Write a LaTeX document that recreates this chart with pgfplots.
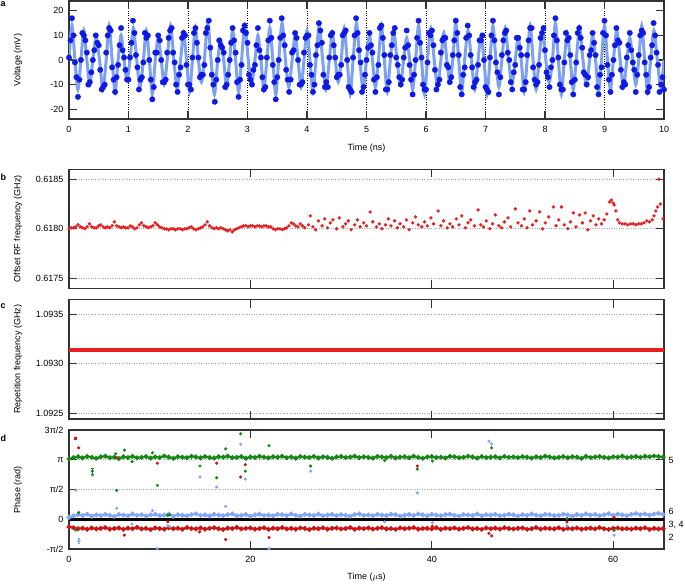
\documentclass[border=0pt]{standalone}
\usepackage{fontspec}
\setmainfont{Liberation Sans}
\usepackage{pgfplots}
\pgfplotsset{compat=1.18}
\usepackage{pgfplotstable}

\definecolor{dotblue}{RGB}{15,25,230}
\definecolor{fitblue}{RGB}{125,160,240}
\definecolor{ptred}{RGB}{232,30,30}
\definecolor{phgreen}{RGB}{20,135,20}
\definecolor{phred}{RGB}{205,20,20}
\definecolor{phblue}{RGB}{130,165,245}

\pgfplotsset{
  panel/.style={
    scale only axis, width=595pt, anchor=north west,
    font=\fontsize{9}{10.5}\selectfont,
    tick label style={font=\fontsize{9}{10.5}\selectfont},
    label style={font=\fontsize{9}{10.5}\selectfont},
    axis line style={line width=1.1pt, black!80},
    tick style={line width=1.1pt, black!80},
    major tick length=8pt, tick align=inside,
    xticklabel style={yshift=-4pt},
    yticklabel style={xshift=-2pt},
    ylabel style={at={(rel axis cs:-0.0857,0.5)}, anchor=center},
    clip mode=individual,
  },
}

% voltage samples (ns, mV)
\pgfplotstableread[row sep=\\]{
t v\\
0 1\\ 0.025 8\\ 0.05 17\\ 0.075 10\\ 0.1 -1\\ 0.125 -7\\ 0.15 -15\\ 0.175 -8\\
0.2 0\\ 0.225 11\\ 0.25 10\\ 0.275 8\\ 0.3 3\\ 0.325 -10\\ 0.35 -9\\ 0.375 -5\\
0.4 0\\ 0.425 4\\ 0.45 10\\ 0.475 7\\ 0.5 6\\ 0.525 -4\\ 0.55 -12\\ 0.575 -11\\ 0.6 -10\\
0.625 3\\ 0.65 10\\ 0.675 13\\ 0.7 12\\ 0.725 -3\\ 0.75 -8\\ 0.775 -13\\ 0.8 -7\\
0.825 -2\\ 0.85 6\\ 0.875 13\\ 0.9 4\\ 0.925 1\\ 0.95 -4\\ 0.975 -8\\ 1 -8\\
1.025 1\\ 1.05 7\\ 1.075 16\\ 1.1 11\\ 1.125 2\\ 1.15 -3\\ 1.175 -12\\ 1.2 -8\\ 1.225 -7\\
1.25 -1\\ 1.275 11\\ 1.3 9\\ 1.325 10\\ 1.35 0\\ 1.375 -8\\ 1.4 -16\\ 1.425 -11\\
1.45 3\\ 1.475 3\\ 1.5 10\\ 1.525 8\\ 1.55 0\\ 1.575 -9\\ 1.6 -9\\ 1.625 -8\\
1.65 3\\ 1.675 9\\ 1.7 12\\ 1.725 13\\ 1.75 3\\ 1.775 -1\\ 1.8 -10\\ 1.825 -13\\ 1.85 -6\\
1.875 -3\\ 1.9 9\\ 1.925 11\\ 1.95 10\\ 1.975 -2\\ 2 -10\\ 2.025 -10\\ 2.05 -12\\
2.075 1\\ 2.1 11\\ 2.125 13\\ 2.15 7\\ 2.175 1\\ 2.2 -7\\ 2.225 -6\\ 2.25 -6\\
2.275 -2\\ 2.3 11\\ 2.325 13\\ 2.35 16\\ 2.375 5\\ 2.4 -6\\ 2.425 -10\\ 2.45 -17\\ 2.475 -8\\
2.5 0\\ 2.525 8\\ 2.55 6\\ 2.575 5\\ 2.6 3\\ 2.625 -11\\ 2.65 -10\\ 2.675 -6\\
2.7 0\\ 2.725 7\\ 2.75 13\\ 2.775 8\\ 2.8 3\\ 2.825 -9\\ 2.85 -15\\ 2.875 -8\\
2.9 -2\\ 2.925 12\\ 2.95 14\\ 2.975 11\\ 3 7\\ 3.025 -6\\ 3.05 -8\\ 3.075 -10\\ 3.1 -4\\
3.125 -2\\ 3.15 6\\ 3.175 13\\ 3.2 4\\ 3.225 1\\ 3.25 -7\\ 3.275 -12\\ 3.3 -11\\
3.325 1\\ 3.35 8\\ 3.375 16\\ 3.4 9\\ 3.425 -2\\ 3.45 -9\\ 3.475 -16\\ 3.5 -7\\
3.525 0\\ 3.55 9\\ 3.575 17\\ 3.6 10\\ 3.625 6\\ 3.65 -4\\ 3.675 -8\\ 3.7 -13\\ 3.725 -8\\
3.75 3\\ 3.775 4\\ 3.8 11\\ 3.825 9\\ 3.85 0\\ 3.875 -10\\ 3.9 -10\\ 3.925 -9\\
3.95 3\\ 3.975 9\\ 4 10\\ 4.025 10\\ 4.05 -2\\ 4.075 -6\\ 4.1 -13\\ 4.125 -10\\
4.15 2\\ 4.175 6\\ 4.2 15\\ 4.225 12\\ 4.25 7\\ 4.275 -6\\ 4.3 -11\\ 4.325 -9\\ 4.35 -11\\
4.375 1\\ 4.4 10\\ 4.425 11\\ 4.45 6\\ 4.475 1\\ 4.5 -7\\ 4.525 -6\\ 4.55 -6\\
4.575 -2\\ 4.6 10\\ 4.625 11\\ 4.65 12\\ 4.675 0\\ 4.7 -11\\ 4.725 -12\\ 4.75 -13\\
4.775 1\\ 4.8 10\\ 4.825 17\\ 4.85 11\\ 4.875 4\\ 4.9 -1\\ 4.925 -13\\ 4.95 -11\\ 4.975 -6\\
5 0\\ 5.025 5\\ 5.05 11\\ 5.075 6\\ 5.1 3\\ 5.125 -8\\ 5.15 -13\\ 5.175 -7\\
5.2 -2\\ 5.225 13\\ 5.25 14\\ 5.275 9\\ 5.3 2\\ 5.325 -12\\ 5.35 -12\\ 5.375 -9\\
5.4 2\\ 5.425 6\\ 5.45 11\\ 5.475 13\\ 5.5 1\\ 5.525 -2\\ 5.55 -7\\ 5.575 -10\\ 5.6 -8\\
5.625 1\\ 5.65 5\\ 5.675 12\\ 5.7 6\\ 5.725 -2\\ 5.75 -8\\ 5.775 -14\\ 5.8 -6\\
5.825 0\\ 5.85 9\\ 5.875 16\\ 5.9 7\\ 5.925 1\\ 5.95 -10\\ 5.975 -12\\ 6 -12\\
6.025 -1\\ 6.05 11\\ 6.075 10\\ 6.1 12\\ 6.125 6\\ 6.15 -4\\ 6.175 -12\\ 6.2 -10\\ 6.225 -8\\
6.25 3\\ 6.275 8\\ 6.3 9\\ 6.325 9\\ 6.35 -2\\ 6.375 -3\\ 6.4 -9\\ 6.425 -7\\
6.45 2\\ 6.475 8\\ 6.5 16\\ 6.525 11\\ 6.55 2\\ 6.575 -11\\ 6.6 -14\\ 6.625 -6\\
6.65 -3\\ 6.675 9\\ 6.7 14\\ 6.725 10\\ 6.75 2\\ 6.775 -3\\ 6.8 -11\\ 6.825 -9\\ 6.85 -8\\
6.875 -2\\ 6.9 8\\ 6.925 8\\ 6.95 10\\ 6.975 0\\ 7 -11\\ 7.025 -12\\ 7.05 -13\\
7.075 1\\ 7.1 10\\ 7.125 16\\ 7.15 8\\ 7.175 -1\\ 7.2 -5\\ 7.225 -14\\ 7.25 -7\\
7.275 2\\ 7.3 8\\ 7.325 11\\ 7.35 12\\ 7.375 3\\ 7.4 0\\ 7.425 -9\\ 7.45 -12\\ 7.475 -5\\
7.5 -2\\ 7.525 9\\ 7.55 9\\ 7.575 5\\ 7.6 2\\ 7.625 -12\\ 7.65 -12\\ 7.675 -9\\
7.7 2\\ 7.725 8\\ 7.75 13\\ 7.775 13\\ 7.8 -3\\ 7.825 -8\\ 7.85 -10\\ 7.875 -9\\
7.9 -2\\ 7.925 9\\ 7.95 11\\ 7.975 13\\ 8 4\\ 8.025 -5\\ 8.05 -7\\ 8.075 -11\\ 8.1 -3\\
8.125 0\\ 8.15 10\\ 8.175 17\\ 8.2 8\\ 8.225 1\\ 8.25 -10\\ 8.275 -12\\ 8.3 -12\\
8.325 -1\\ 8.35 11\\ 8.375 8\\ 8.4 9\\ 8.425 2\\ 8.45 -9\\ 8.475 -14\\ 8.5 -8\\
8.525 -1\\ 8.55 11\\ 8.575 13\\ 8.6 9\\ 8.625 5\\ 8.65 -5\\ 8.675 -6\\ 8.7 -10\\ 8.725 -7\\
8.75 2\\ 8.775 4\\ 8.8 11\\ 8.825 7\\ 8.85 2\\ 8.875 -11\\ 8.9 -14\\ 8.925 -6\\
8.95 -3\\ 8.975 11\\ 9 16\\ 9.025 10\\ 9.05 -2\\ 9.075 -8\\ 9.1 -13\\ 9.125 -6\\
9.15 0\\ 9.175 6\\ 9.2 13\\ 9.225 8\\ 9.25 7\\ 9.275 -4\\ 9.3 -11\\ 9.325 -9\\ 9.35 -10\\
9.375 1\\ 9.4 6\\ 9.425 11\\ 9.45 4\\ 9.475 -1\\ 9.5 -4\\ 9.525 -13\\ 9.55 -6\\
9.575 2\\ 9.6 10\\ 9.625 12\\ 9.65 11\\ 9.675 -1\\ 9.7 -6\\ 9.725 -13\\ 9.75 -11\\
9.775 1\\ 9.8 6\\ 9.825 15\\ 9.85 10\\ 9.875 3\\ 9.9 -2\\ 9.925 -13\\ 9.95 -10\\ 9.975 -7\\
10 -12\\
}\dotsA

% fitted waveform (ns, mV)
\pgfplotstableread[row sep=\\]{
t v\\
0 0\\ 0.05 14\\ 0.1 0\\ 0.15 -12\\ 0.2 0\\ 0.25 12\\ 0.3 0\\ 0.35 -10\\
0.4 0\\ 0.456 9\\ 0.513 0\\ 0.569 -12\\ 0.625 0\\ 0.675 14\\ 0.725 0\\ 0.775 -13\\
0.825 0\\ 0.875 10\\ 0.925 0\\ 0.975 -8\\ 1.025 0\\ 1.081 13\\ 1.138 0\\ 1.194 -11\\
1.25 0\\ 1.3 12\\ 1.35 0\\ 1.4 -14\\ 1.45 0\\ 1.5 9\\ 1.55 0\\ 1.6 -10\\
1.65 0\\ 1.706 14\\ 1.763 0\\ 1.819 -12\\ 1.875 0\\ 1.925 11\\ 1.975 0\\ 2.025 -13\\
2.075 0\\ 2.125 13\\ 2.175 0\\ 2.225 -9\\ 2.275 0\\ 2.331 15\\ 2.388 0\\ 2.444 -14\\
2.5 0\\ 2.55 8\\ 2.6 0\\ 2.65 -11\\ 2.7 0\\ 2.75 12\\ 2.8 0\\ 2.85 -13\\
2.9 0\\ 2.956 14\\ 3.013 0\\ 3.069 -10\\ 3.125 0\\ 3.175 10\\ 3.225 0\\ 3.275 -12\\
3.325 0\\ 3.375 13\\ 3.425 0\\ 3.475 -14\\ 3.525 0\\ 3.581 15\\ 3.638 0\\ 3.694 -11\\
3.75 0\\ 3.8 10\\ 3.85 0\\ 3.9 -11\\ 3.95 0\\ 4 12\\ 4.05 0\\ 4.1 -13\\
4.15 0\\ 4.206 14\\ 4.263 0\\ 4.319 -12\\ 4.375 0\\ 4.425 11\\ 4.475 0\\ 4.525 -9\\
4.575 0\\ 4.625 13\\ 4.675 0\\ 4.725 -14\\ 4.775 0\\ 4.831 15\\ 4.888 0\\ 4.944 -12\\
5 0\\ 5.05 10\\ 5.1 0\\ 5.15 -11\\ 5.2 0\\ 5.25 14\\ 5.3 0\\ 5.35 -13\\
5.4 0\\ 5.456 12\\ 5.513 0\\ 5.569 -10\\ 5.625 0\\ 5.675 9\\ 5.725 0\\ 5.775 -12\\
5.825 0\\ 5.875 14\\ 5.925 0\\ 5.975 -14\\ 6.025 0\\ 6.081 13\\ 6.138 0\\ 6.194 -11\\
6.25 0\\ 6.3 11\\ 6.35 0\\ 6.4 -9\\ 6.45 0\\ 6.5 15\\ 6.55 0\\ 6.6 -13\\
6.65 0\\ 6.706 12\\ 6.763 0\\ 6.819 -12\\ 6.875 0\\ 6.925 10\\ 6.975 0\\ 7.025 -14\\
7.075 0\\ 7.125 14\\ 7.175 0\\ 7.225 -11\\ 7.275 0\\ 7.331 13\\ 7.388 0\\ 7.444 -10\\
7.5 0\\ 7.55 9\\ 7.6 0\\ 7.65 -13\\ 7.7 0\\ 7.75 14\\ 7.8 0\\ 7.85 -12\\
7.9 0\\ 7.956 12\\ 8.013 0\\ 8.069 -9\\ 8.125 0\\ 8.175 15\\ 8.225 0\\ 8.275 -14\\
8.325 0\\ 8.375 11\\ 8.425 0\\ 8.475 -12\\ 8.525 0\\ 8.581 13\\ 8.638 0\\ 8.694 -10\\
8.75 0\\ 8.8 10\\ 8.85 0\\ 8.9 -13\\ 8.95 0\\ 9 14\\ 9.05 0\\ 9.1 -12\\
9.15 0\\ 9.206 12\\ 9.263 0\\ 9.319 -11\\ 9.375 0\\ 9.425 9\\ 9.475 0\\ 9.525 -10\\
9.575 0\\ 9.625 14\\ 9.675 0\\ 9.725 -13\\ 9.775 0\\ 9.831 12\\ 9.888 0\\ 9.944 -11\\
10 0\\
}\fitA

% offset RF frequency (us, GHz)
\pgfplotstableread[row sep=\\]{
t f\\
0 0.61800\\ 0.25 0.61801\\ 0.5 0.61801\\ 0.75 0.61802\\ 1 0.61804\\ 1.25 0.61802\\ 1.5 0.61801\\ 1.75 0.61800\\
2 0.61802\\ 2.25 0.61805\\ 2.5 0.61802\\ 2.75 0.61801\\ 3 0.61801\\ 3.25 0.61803\\ 3.5 0.61804\\ 3.75 0.61802\\
4 0.61801\\ 4.25 0.61802\\ 4.5 0.61801\\ 4.75 0.61803\\ 5 0.61807\\ 5.25 0.61803\\ 5.5 0.61802\\ 5.75 0.61801\\
6 0.61802\\ 6.25 0.61801\\ 6.5 0.61801\\ 6.75 0.61803\\ 7 0.61802\\ 7.25 0.61800\\ 7.5 0.61801\\ 7.75 0.61804\\
8 0.61806\\ 8.25 0.61803\\ 8.5 0.61802\\ 8.75 0.61801\\ 9 0.61802\\ 9.25 0.61803\\ 9.5 0.61806\\ 9.75 0.61804\\
10 0.61802\\ 10.25 0.61801\\ 10.5 0.61800\\ 10.75 0.61800\\ 11 0.61799\\ 11.25 0.61800\\ 11.5 0.61800\\ 11.75 0.61799\\
12 0.61800\\ 12.25 0.61800\\ 12.5 0.61799\\ 12.75 0.61800\\ 13 0.61800\\ 13.25 0.61801\\ 13.5 0.61802\\ 13.75 0.61800\\
14 0.61799\\ 14.25 0.61800\\ 14.5 0.61801\\ 14.75 0.61802\\ 15 0.61804\\ 15.25 0.61807\\ 15.5 0.61803\\ 15.75 0.61801\\
16 0.61800\\ 16.25 0.61801\\ 16.5 0.61800\\ 16.75 0.61801\\ 17 0.61800\\ 17.25 0.61799\\ 17.5 0.61798\\ 17.75 0.61799\\
18 0.61797\\ 18.25 0.61799\\ 18.5 0.61800\\ 18.75 0.61801\\ 19 0.61802\\ 19.25 0.61803\\ 19.5 0.61803\\ 19.75 0.61802\\
20 0.61803\\ 20.25 0.61803\\ 20.5 0.61802\\ 20.75 0.61803\\ 21 0.61803\\ 21.25 0.61802\\ 21.5 0.61803\\ 21.75 0.61803\\
22 0.61802\\ 22.25 0.61802\\ 22.5 0.61800\\ 22.75 0.61799\\ 23 0.61800\\ 23.25 0.61800\\ 23.5 0.61799\\ 23.75 0.61800\\
24 0.61801\\ 24.25 0.61803\\ 24.5 0.61806\\ 24.75 0.61805\\ 25 0.61803\\ 25.25 0.61802\\ 25.5 0.61805\\ 25.75 0.61803\\
26 0.61801\\ 26.4 0.61804\\ 26.6 0.61813\\ 26.9 0.61802\\ 27.2 0.61799\\ 27.5 0.61808\\ 27.9 0.61803\\ 28.2 0.61810\\
28.5 0.61801\\ 28.8 0.61806\\ 29.1 0.61809\\ 29.5 0.61800\\ 29.8 0.61811\\ 30.2 0.61802\\ 30.5 0.61805\\ 30.8 0.61808\\
31.1 0.61799\\ 31.5 0.61804\\ 31.8 0.61809\\ 32.1 0.61802\\ 32.5 0.61806\\ 32.8 0.61803\\ 33.2 0.61817\\ 33.5 0.61807\\
33.9 0.61802\\ 34.2 0.61805\\ 34.5 0.61800\\ 34.9 0.61804\\ 35.2 0.61810\\ 35.5 0.61803\\ 35.9 0.61808\\ 36.2 0.61801\\
36.5 0.61805\\ 36.9 0.61802\\ 37.2 0.61809\\ 37.5 0.61799\\ 37.9 0.61806\\ 38.2 0.61812\\ 38.5 0.61804\\ 38.9 0.61802\\
39.2 0.61807\\ 39.5 0.61803\\ 39.9 0.61811\\ 40.2 0.61805\\ 40.7 0.61818\\ 41 0.61803\\ 41.3 0.61808\\ 41.7 0.61801\\
42 0.61805\\ 42.3 0.61802\\ 42.7 0.61810\\ 43 0.61804\\ 43.3 0.61813\\ 43.7 0.61801\\ 44 0.61806\\ 44.3 0.61809\\
44.7 0.61803\\ 45.1 0.61819\\ 45.4 0.61804\\ 45.7 0.61802\\ 46 0.61808\\ 46.4 0.61800\\ 46.7 0.61805\\ 47 0.61814\\
47.4 0.61803\\ 47.7 0.61801\\ 48 0.61807\\ 48.4 0.61811\\ 48.7 0.61802\\ 49.2 0.61820\\ 49.5 0.61806\\ 49.9 0.61803\\
50.2 0.61810\\ 50.5 0.61801\\ 50.8 0.61818\\ 51.1 0.61804\\ 51.5 0.61808\\ 51.9 0.61817\\ 52.2 0.61800\\ 52.5 0.61806\\
52.9 0.61812\\ 53.4 0.61822\\ 53.7 0.61803\\ 54 0.61809\\ 54.3 0.61822\\ 54.6 0.61804\\ 55 0.61800\\ 55.3 0.61807\\
55.6 0.61816\\ 55.9 0.61802\\ 56.3 0.61814\\ 56.6 0.61806\\ 56.9 0.61816\\ 57.2 0.61799\\ 57.5 0.61808\\ 57.8 0.61813\\
58.1 0.61804\\ 58.4 0.61810\\ 58.7 0.61805\\ 59 0.61809\\ 59.3 0.61815\\ 59.6 0.61827\\ 59.8 0.61829\\ 60 0.61826\\
60.1 0.61824\\ 60.3 0.61818\\ 60.5 0.61809\\ 60.7 0.61806\\ 61 0.61805\\ 61.3 0.61805\\ 61.6 0.61804\\ 61.9 0.61805\\
62.2 0.61805\\ 62.5 0.61804\\ 62.8 0.61805\\ 63.1 0.61805\\ 63.4 0.61806\\ 63.7 0.61808\\ 64 0.61807\\ 64.3 0.61809\\
64.5 0.61813\\ 64.7 0.61818\\ 64.9 0.61822\\ 65.05 0.61850\\ 65.2 0.61825\\ 65.5 0.61810\\
}\freqB

% phases (us, rad): traces 5 (g), 6 (b), 2 (r)
\pgfplotstableread[row sep=\\]{
t g b r\\
0 3.18 0.10 -0.40\\ 0.5 3.26 0.18 -0.45\\ 1 3.30 0.24 -0.50\\ 1.5 3.24 0.20 -0.47\\
2 3.31 0.27 -0.53\\ 2.5 3.27 0.16 -0.46\\ 3 3.22 0.23 -0.51\\ 3.5 3.29 0.19 -0.48\\
4 3.33 0.26 -0.44\\ 4.5 3.25 0.21 -0.52\\ 5 3.28 0.15 -0.49\\ 5.5 3.21 0.25 -0.46\\
6 3.30 0.22 -0.53\\ 6.5 3.26 0.18 -0.47\\ 7 3.32 0.28 -0.50\\ 7.5 3.24 0.20 -0.43\\
8 3.27 0.24 -0.51\\ 8.5 3.31 0.17 -0.48\\ 9 3.23 0.23 -0.54\\ 9.5 3.29 0.26 -0.46\\
10 3.26 0.19 -0.49\\ 10.5 3.34 0.22 -0.52\\ 11 3.28 0.27 -0.45\\ 11.5 3.22 0.16 -0.50\\
12 3.30 0.24 -0.47\\ 12.5 3.27 0.21 -0.53\\ 13 3.25 0.18 -0.44\\ 13.5 3.32 0.25 -0.49\\
14 3.29 0.29 -0.51\\ 14.5 3.24 0.20 -0.46\\ 15 3.31 0.23 -0.52\\ 15.5 3.26 0.17 -0.48\\
16 3.23 0.26 -0.45\\ 16.5 3.30 0.22 -0.50\\ 17 3.28 0.19 -0.54\\ 17.5 3.33 0.24 -0.47\\
18 3.25 0.28 -0.49\\ 18.5 3.27 0.18 -0.43\\ 19 3.31 0.21 -0.51\\ 19.5 3.22 0.25 -0.48\\
20 3.29 0.16 -0.46\\ 20.5 3.26 0.23 -0.52\\ 21 3.32 0.27 -0.49\\ 21.5 3.28 0.20 -0.45\\
22 3.24 0.22 -0.53\\ 22.5 3.30 0.18 -0.47\\ 23 3.27 0.26 -0.50\\ 23.5 3.33 0.24 -0.44\\
24 3.25 0.19 -0.51\\ 24.5 3.29 0.28 -0.48\\ 25 3.23 0.21 -0.52\\ 25.5 3.31 0.17 -0.46\\
26 3.28 0.25 -0.49\\ 26.5 3.26 0.23 -0.54\\ 27 3.32 0.20 -0.47\\ 27.5 3.24 0.27 -0.50\\
28 3.30 0.18 -0.45\\ 28.5 3.27 0.22 -0.52\\ 29 3.22 0.26 -0.48\\ 29.5 3.29 0.19 -0.46\\
30 3.31 0.24 -0.51\\ 30.5 3.26 0.21 -0.49\\ 31 3.28 0.16 -0.44\\ 31.5 3.33 0.25 -0.53\\
32 3.25 0.28 -0.47\\ 32.5 3.30 0.20 -0.50\\ 33 3.27 0.23 -0.46\\ 33.5 3.23 0.18 -0.52\\
34 3.31 0.26 -0.48\\ 34.5 3.29 0.22 -0.45\\ 35 3.26 0.19 -0.51\\ 35.5 3.32 0.27 -0.49\\
36 3.24 0.24 -0.53\\ 36.5 3.28 0.17 -0.46\\ 37 3.30 0.21 -0.50\\ 37.5 3.25 0.25 -0.47\\
38 3.33 0.20 -0.44\\ 38.5 3.27 0.28 -0.52\\ 39 3.22 0.23 -0.49\\ 39.5 3.29 0.18 -0.48\\
40 3.31 0.26 -0.51\\ 40.5 3.26 0.22 -0.45\\ 41 3.28 0.19 -0.53\\ 41.5 3.24 0.24 -0.47\\
42 3.32 0.27 -0.50\\ 42.5 3.30 0.21 -0.46\\ 43 3.25 0.17 -0.52\\ 43.5 3.27 0.25 -0.48\\
44 3.33 0.23 -0.44\\ 44.5 3.29 0.20 -0.51\\ 45 3.23 0.28 -0.49\\ 45.5 3.31 0.18 -0.53\\
46 3.26 0.24 -0.46\\ 46.5 3.28 0.22 -0.50\\ 47 3.30 0.26 -0.47\\ 47.5 3.24 0.19 -0.52\\
48 3.32 0.21 -0.45\\ 48.5 3.27 0.27 -0.49\\ 49 3.29 0.23 -0.51\\ 49.5 3.25 0.17 -0.48\\
50 3.31 0.25 -0.46\\ 50.5 3.28 0.20 -0.53\\ 51 3.23 0.28 -0.50\\ 51.5 3.30 0.22 -0.44\\
52 3.26 0.18 -0.52\\ 52.5 3.33 0.26 -0.47\\ 53 3.29 0.24 -0.49\\ 53.5 3.24 0.19 -0.51\\
54 3.27 0.21 -0.45\\ 54.5 3.31 0.27 -0.53\\ 55 3.25 0.23 -0.48\\ 55.5 3.30 0.16 -0.50\\
56 3.28 0.25 -0.46\\ 56.5 3.22 0.20 -0.52\\ 57 3.32 0.28 -0.49\\ 57.5 3.26 0.22 -0.47\\
58 3.29 0.26 -0.51\\ 58.5 3.31 0.19 -0.44\\ 59 3.27 0.24 -0.50\\ 59.5 3.24 0.29 -0.53\\
60 3.30 0.21 -0.48\\ 60.5 3.28 0.27 -0.46\\ 61 3.33 0.23 -0.51\\ 61.5 3.26 0.18 -0.49\\
62 3.29 0.26 -0.52\\ 62.5 3.31 0.30 -0.47\\ 63 3.27 0.24 -0.50\\ 63.5 3.32 0.28 -0.45\\
64 3.30 0.22 -0.53\\ 64.5 3.34 0.27 -0.48\\ 65 3.31 0.31 -0.51\\ 65.5 3.29 0.26 -0.49\\
}\bands

\begin{document}
\begin{tikzpicture}
\useasboundingbox (0,0) rectangle (685pt,-584pt);

% panel a
\begin{axis}[panel, at={(69pt,-1pt)}, height=118pt,
  xmin=0, xmax=10, ymin=-24, ymax=24,
  xtick={0,1,2,3,4,5,6,7,8,9,10}, xticklabels={0,1,2,3,4,5,6,7,8,9,10},
  ytick={-20,-10,0,10,20}, yticklabels={-20,-10,0,10,20},
  xmajorgrids, grid style={black, dotted, line width=0.8pt},
  xlabel={Time (ns)}, ylabel={Voltage (mV)},
  xlabel style={at={(rel axis cs:0.5,-0.246)}, anchor=center}]
\addplot[fitblue, line width=3pt, smooth] table[x=t, y=v] {\fitA};
\addplot[only marks, mark=*, mark size=2.7pt, dotblue] table[x=t, y=v] {\dotsA};
\end{axis}

% panel b
\begin{axis}[panel, at={(69pt,-169.3pt)}, height=119pt,
  xmin=0, xmax=65.6, ymin=0.6174, ymax=0.6186,
  xtick={0,20,40,60}, xticklabels={},
  ytick={0.6175,0.618,0.6185}, yticklabels={0.6175,0.6180,0.6185},
  ymajorgrids, grid style={gray!70, dotted, line width=0.7pt},
  ylabel={Offset RF frequency (GHz)}]
\addplot[only marks, mark=*, mark size=1.5pt, ptred] table[x=t, y=f] {\freqB};
\end{axis}

% panel c
\begin{axis}[panel, at={(69pt,-299.5pt)}, height=119.5pt,
  xmin=0, xmax=65.6, ymin=1.09244, ymax=1.09365,
  xtick={0,20,40,60}, xticklabels={},
  ytick={1.0925,1.093,1.0935}, yticklabels={1.0925,1.0930,1.0935},
  ymajorgrids, grid style={gray!70, dotted, line width=0.7pt},
  ylabel={Repetition frequency (GHz)}]
\addplot[ptred, line width=3.8pt] coordinates {
  (0,1.09314) (10,1.09314) (20,1.09314) (30,1.09314) (40,1.09314)
  (50,1.09314) (60,1.09314) (65.6,1.09314)};
\end{axis}

% panel d
\begin{axis}[panel, at={(69pt,-430pt)}, height=119pt,
  xmin=0, xmax=65.6, ymin=-1.5708, ymax=4.7124,
  xtick={0,20,40,60}, xticklabels={0,20,40,60},
  ytick={-1.5708,0,1.5708,3.1416,4.7124}, yticklabels={-π/2,0,π/2,π,3π/2},
  ymajorgrids, grid style={gray!70, dotted, line width=0.7pt},
  xlabel={Time ($\mu$s)}, ylabel={Phase (rad)},
  xlabel style={at={(rel axis cs:0.5,-0.235)}, anchor=center}]
\addplot[black, line width=2.6pt] coordinates {(0,0) (65.6,0)};
\addplot[phgreen, line width=2pt, mark=*, mark size=1.3pt] table[x=t, y=g] {\bands};
\addplot[phblue, line width=2pt, mark=*, mark size=1.3pt] table[x=t, y=b] {\bands};
\addplot[phred, line width=2pt, mark=*, mark size=1.3pt] table[x=t, y=r] {\bands};
\addplot[only marks, mark=*, mark size=1.4pt, phgreen] coordinates {
  (1.07,0.35) (0.74,-0.56) (5.15,3.46) (5.26,1.52) (6.1,3.65) (6.95,3.04) (9.2,3.51)
  (9.74,1.79) (10.88,0.21) (11.1,0.24) (14.44,2.81) (16.28,2.19) (17.27,3.72)
  (18.93,4.51) (19.44,2.54) (22.05,3.88) (26.64,2.81) (34.8,3.10) (38.4,2.65)
  (40.06,3.07) (46.6,3.77) (54.9,0.04) (60.1,-0.58)};
\addplot[only marks, mark=*, mark size=1.4pt, phred] coordinates {
  (1.07,3.77) (5.26,3.25) (6.1,-0.84) (9.74,2.96) (10.9,-0.14) (14.4,-0.67)
  (16.28,2.96) (17.27,-1.07) (18.93,2.23) (19.44,2.88) (22.05,-0.96) (38.4,2.81)
  (40.06,-0.37) (46.3,-0.74) (46.6,-0.88) (54.9,-0.14) (60.1,0.09)};
\addplot[only marks, mark=*, mark size=1.4pt, phblue] coordinates {
  (0.77,1.54) (2.57,2.32) (5.26,0.58) (6.95,-0.25) (9.2,0.46) (9.74,-1.54)
  (10.9,-0.35) (11.1,-0.38) (14.44,2.23) (16.28,1.70) (17.27,0.68) (18.93,3.96)
  (19.44,2.12) (22.05,-1.55) (26.64,2.54) (34.8,-0.14) (38.4,1.39) (40.06,-0.18)
  (46.3,4.12) (46.6,3.98) (54.9,-0.35) (60.1,-0.84)};
\addplot[phred, only marks, mark=*, mark size=1.4pt,
  error bars/.cd, y dir=both, y explicit, error bar style={line width=1pt}]
  coordinates {(0.74,4.28) +- (0,0.07)};
\addplot[phgreen, only marks, mark=*, mark size=1.4pt,
  error bars/.cd, y dir=both, y explicit, error bar style={line width=1pt}]
  coordinates {(2.57,2.54) +- (0,0.16)};
\addplot[phblue, only marks, mark=*, mark size=1.4pt,
  error bars/.cd, y dir=both, y explicit, error bar style={line width=1pt}]
  coordinates {(1.1,-1.14) +- (0,0.15)};
\node[anchor=west, inner sep=0pt, xshift=4.5pt] at (axis cs:65.6,3.11) {5};
\node[anchor=west, inner sep=0pt, xshift=4.5pt] at (axis cs:65.6,0.44) {6};
\node[anchor=west, inner sep=0pt, xshift=4.5pt] at (axis cs:65.6,-0.28) {3, 4};
\node[anchor=west, inner sep=0pt, xshift=4.5pt] at (axis cs:65.6,-0.96) {2};
\end{axis}

\begin{scope}[font=\bfseries\fontsize{9}{10}\selectfont]
\node[anchor=west, inner sep=0pt] at (0.5pt,-4pt) {a};
\node[anchor=west, inner sep=0pt] at (0.5pt,-177pt) {b};
\node[anchor=west, inner sep=0pt] at (0.5pt,-306.5pt) {c};
\node[anchor=west, inner sep=0pt] at (0.5pt,-438pt) {d};
\end{scope}
\end{tikzpicture}
\end{document}
